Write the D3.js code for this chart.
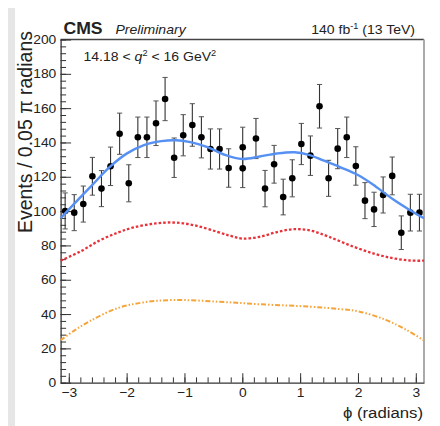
<!DOCTYPE html>
<html>
<head>
<meta charset="utf-8">
<script src="https://cdn.jsdelivr.net/npm/d3@7"></script>
<style>
  body { margin: 0; background: #fff; }
  svg text { font-family: "Liberation Sans", Arial, Helvetica, sans-serif; fill: #222; }
</style>
</head>
<body>
<svg id="chart" width="440" height="426"></svg>
<script>
// Bin centres in phi (radians) and the measured event counts with their errors
const phiBins = [
  -3.063, -2.906, -2.749, -2.592, -2.435, -2.278, -2.121, -1.963, -1.806, -1.649,
  -1.492, -1.335, -1.178, -1.021, -0.864, -0.707, -0.550, -0.393, -0.236, 0.007,
   0.007,  0.236,  0.393,  0.550,  0.707,  0.864,  1.021,  1.178,  1.335,  1.492,
   1.649,  1.806,  1.963,  2.121,  2.278,  2.435,  2.592,  2.749,  2.906,  3.063
];
const events = [
  100.1,  99.1, 104.1, 120.3, 113.1, 126.1, 145.1, 116.2, 143.0, 143.0,
  151.2, 165.3, 131.1, 144.2, 150.2, 143.0, 136.2, 136.2, 125.1, 137.2,
  124.9, 142.3, 113.1, 127.3, 108.2, 119.1, 139.1, 132.3, 161.1, 119.1,
  136.4, 143.0, 126.3, 106.1, 101.0, 109.4, 120.5,  87.4,  99.1,  99.1
];
const eventErrors = [
  10.5, 10.5, 10.5, 11.0, 10.5, 11.2, 12.0, 10.8, 11.8, 11.8,
  13.0, 12.6, 11.5, 12.0, 12.4, 12.0, 11.7, 11.7, 11.2, 11.7,
  11.2, 11.7, 10.6, 11.0, 10.4, 10.8, 12.0, 11.5, 12.7, 10.5,
  11.7, 11.8, 11.2, 10.5, 10.0, 10.5, 11.0,  9.8, 10.7, 10.7
];

// Total fit (solid blue)
const fitPhi = [-3.1416, -2.9, -2.6, -2.3, -2.0, -1.7, -1.4, -1.15, -0.9, -0.6, -0.3, 0.0,
                0.3, 0.6, 0.9, 1.15, 1.4, 1.7, 2.0, 2.3, 2.6, 2.9, 3.1416];
const fitTotal = [95.8, 104.5, 115.0, 125.5, 133.5, 138.5, 140.8, 141.3, 140.2, 137.3, 132.8, 130.4,
                  131.8, 133.6, 134.3, 132.8, 129.5, 125.5, 121.0, 114.5, 107.0, 100.5, 95.8];

// First fit component (red dotted)
const compAPhi = [-3.1416, -2.8, -2.46, -2.15, -1.88, -1.5, -1.15, -0.8, -0.44, -0.2, 0.0,
                  0.3, 0.6, 0.9, 1.2, 1.5, 1.92, 2.3, 2.61, 2.9, 3.1416];
const compA = [71.1, 76.5, 83.0, 87.5, 90.5, 92.8, 93.3, 91.5, 88.0, 85.5, 84.0,
               85.0, 87.8, 89.5, 88.5, 85.0, 79.3, 75.0, 72.5, 71.2, 71.1];

// Second fit component (orange dash-dot)
const compBPhi = [-3.1416, -2.9, -2.63, -2.17, -1.71, -1.19, -0.41, 0.31, 1.17, 1.69, 2.03, 2.49, 2.84, 3.1416];
const compB = [24.8, 30.5, 36.0, 43.3, 46.8, 48.2, 47.2, 45.7, 44.3, 42.9, 41.4, 36.5, 30.7, 24.6];

const yTickValues = [0, 20, 40, 60, 80, 100, 120, 140, 160, 180, 200];
const xTickValues = [-3, -2, -1, 0, 1, 2, 3];

const svg = d3.select("#chart");
const stretch = 1.08;

const x = d3.scaleLinear().domain([-Math.PI, Math.PI]).range([60.6, 424]);
const y = d3.scaleLinear().domain([0, 200]).range([382.7, 39.5]);

// light grey strip on the far left
svg.append("rect").attr("x", 8).attr("y", 8).attr("width", 7).attr("height", 418).attr("fill", "#e6e6e6");

// frame: top and right edges
svg.append("line").attr("x1", x.range()[0]).attr("x2", x.range()[1]).attr("y1", y(200)).attr("y2", y(200))
  .attr("stroke", "#444").attr("stroke-width", 1.3);
svg.append("line").attr("x1", x.range()[1]).attr("x2", x.range()[1]).attr("y1", y(200)).attr("y2", y(0))
  .attr("stroke", "#aaa").attr("stroke-width", 2);

// y axis: minor then major ticks pointing inward
const yMinor = d3.range(0, 201, 4);
svg.append("g").attr("transform", `translate(${x.range()[0]},0)`)
  .call(d3.axisLeft(y).tickValues(yMinor).tickSizeInner(-5.5).tickSizeOuter(0).tickFormat(""))
  .call(g => g.select(".domain").remove())
  .call(g => g.selectAll("line").attr("stroke", "#333"));
const yAxis = svg.append("g").attr("transform", `translate(${x.range()[0]},0)`)
  .call(d3.axisLeft(y).tickValues(yTickValues).tickSizeInner(-10.5).tickSizeOuter(0).tickPadding(4)
        .tickFormat(d3.format("d")))
  .call(g => g.select(".domain").attr("stroke", "#333").attr("stroke-width", 1.3))
  .call(g => g.selectAll("line").attr("stroke", "#333"));
yAxis.selectAll("text").attr("font-size", 12.8).attr("fill", "#333")
  .style("font-family", "'Liberation Sans', Arial, sans-serif")
  .attr("transform", `scale(${stretch},1)`);

// x axis
const xMinor = d3.range(-15, 16).map(k => k * 0.2);
svg.append("g").attr("transform", `translate(0,${y.range()[0]})`)
  .call(d3.axisBottom(x).tickValues(xMinor).tickSizeInner(-5.3).tickSizeOuter(0).tickFormat(""))
  .call(g => g.select(".domain").remove())
  .call(g => g.selectAll("line").attr("stroke", "#333"));
const xAxis = svg.append("g").attr("transform", `translate(0,${y.range()[0]})`)
  .call(d3.axisBottom(x).tickValues(xTickValues).tickSizeInner(-9.5).tickSizeOuter(0).tickPadding(5.6)
        .tickFormat(d3.format("d")))
  .call(g => g.select(".domain").attr("stroke", "#333").attr("stroke-width", 1.3))
  .call(g => g.selectAll("line").attr("stroke", "#333"));
xAxis.selectAll("text").attr("font-size", 12.8).attr("fill", "#333")
  .style("font-family", "'Liberation Sans', Arial, sans-serif")
  .attr("transform", `scale(${stretch},1)`);

// data points with error bars
const data = phiBins.map((p, i) => ({ phi: p, n: events[i], e: eventErrors[i] }));
const pts = svg.append("g");
pts.selectAll("line.bar").data(data).join("line").attr("class", "bar")
  .attr("x1", d => x(d.phi)).attr("x2", d => x(d.phi))
  .attr("y1", d => y(d.n + d.e)).attr("y2", d => y(d.n - d.e))
  .attr("stroke", "#333").attr("stroke-width", 1.1);
pts.selectAll("line.capTop").data(data).join("line").attr("class", "capTop")
  .attr("x1", d => x(d.phi) - 2.6).attr("x2", d => x(d.phi) + 2.6)
  .attr("y1", d => y(d.n + d.e)).attr("y2", d => y(d.n + d.e))
  .attr("stroke", "#555").attr("stroke-width", 1);
pts.selectAll("line.capBot").data(data).join("line").attr("class", "capBot")
  .attr("x1", d => x(d.phi) - 2.6).attr("x2", d => x(d.phi) + 2.6)
  .attr("y1", d => y(d.n - d.e)).attr("y2", d => y(d.n - d.e))
  .attr("stroke", "#555").attr("stroke-width", 1);
pts.selectAll("circle").data(data).join("circle")
  .attr("cx", d => x(d.phi)).attr("cy", d => y(d.n)).attr("r", 3.3).attr("fill", "#000");

// fit curves
const line = d3.line().x(d => x(d[0])).y(d => y(d[1])).curve(d3.curveCatmullRom.alpha(0.5));
svg.append("path").datum(compBPhi.map((p, i) => [p, compB[i]]))
  .attr("d", line).attr("fill", "none").attr("stroke", "#f5a43a").attr("stroke-width", 2)
  .attr("stroke-dasharray", "5,2,1.5,2,1.5,2");
svg.append("path").datum(compAPhi.map((p, i) => [p, compA[i]]))
  .attr("d", line).attr("fill", "none").attr("stroke", "#e8323a").attr("stroke-width", 2.3)
  .attr("stroke-dasharray", "2.6,2");
svg.append("path").datum(fitPhi.map((p, i) => [p, fitTotal[i]]))
  .attr("d", line).attr("fill", "none").attr("stroke", "#5590f2").attr("stroke-width", 2.4);

// header texts
function stretchedText(xp, yp, anchor) {
  return svg.append("text").attr("transform", `translate(${xp},${yp}) scale(${stretch},1)`)
    .attr("text-anchor", anchor);
}
stretchedText(63.5, 34.3, "start").attr("font-size", 16.3).attr("font-weight", "bold").attr("fill", "#111").text("CMS");
stretchedText(115.5, 34.3, "start").attr("font-size", 13).attr("font-style", "italic").text("Preliminary");

const lumi = stretchedText(415, 34.3, "end").attr("font-size", 13);
lumi.append("tspan").text("140 fb");
lumi.append("tspan").attr("dy", -5).attr("font-size", 8.5).text("-1");
lumi.append("tspan").attr("dy", 5).text(" (13 TeV)");

const range = stretchedText(83.5, 61, "start").attr("font-size", 13);
range.append("tspan").text("14.18 < ");
range.append("tspan").attr("font-style", "italic").text("q");
range.append("tspan").attr("dy", -5).attr("font-size", 8.5).text("2");
range.append("tspan").attr("dy", 5).text(" < 16 GeV");
range.append("tspan").attr("dy", -5).attr("font-size", 8.5).text("2");

// axis titles
svg.append("text").attr("transform", `translate(32,31) rotate(-90)`)
  .attr("text-anchor", "end").attr("font-size", 19.5).text("Events / 0.05 π radians");
stretchedText(423, 418, "end").attr("font-size", 15.5).text("ϕ (radians)");
</script>
</body>
</html>
